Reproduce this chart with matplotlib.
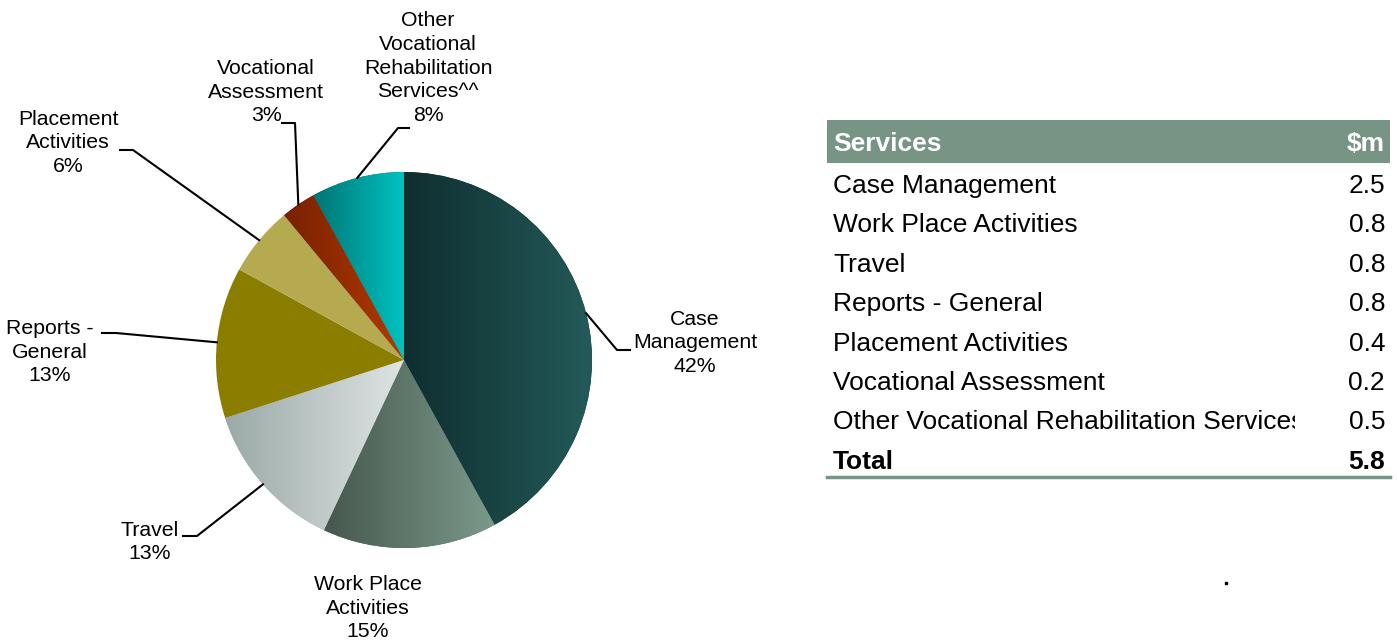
import numpy as np
import matplotlib
matplotlib.use('Agg')
import matplotlib.pyplot as plt
from matplotlib.colors import LinearSegmentedColormap
from matplotlib.patches import Rectangle

plt.rcParams['font.family'] = ['Liberation Sans', 'DejaVu Sans']

# pie data (share of spend, clockwise from 12 o'clock)
pie_labels = ['Case\nManagement', 'Work Place\nActivities', 'Travel', 'Reports -\nGeneral',
              'Placement\nActivities', 'Vocational\nAssessment',
              'Other\nVocational\nRehabilitation\nServices^^']
pie_pct = [42, 15, 13, 13, 6, 3, 8]

# table data
tbl_services = ['Case Management', 'Work Place Activities', 'Travel', 'Reports - General',
                'Placement Activities', 'Vocational Assessment',
                'Other Vocational Rehabilitation Services']
tbl_values = [2.5, 0.8, 0.8, 0.8, 0.4, 0.2, 0.5]
tbl_total = 5.8

# slice fills: (left colour, right colour) for horizontal gradient
grads = [('#0f2e2f', '#235a59'), ('#46574d', '#7b9a8b'), ('#9aa9a7', '#dfe4e4'),
         ('#8b7d00', '#8b7d00'), ('#b5aa50', '#b5aa50'), ('#782000', '#b23a00'),
         ('#007474', '#00c2c2')]

W, H = 1397, 642
fig = plt.figure(figsize=(W / 100, H / 100), dpi=100)
ax = fig.add_axes([0, 0, 1, 1])
ax.set_xlim(0, W)
ax.set_ylim(0, H)
ax.set_aspect('equal')
ax.axis('off')

def py(y):
    # pixel row (from top) -> data y
    return H - y

cx, cy, R = 404, py(360), 188
wedges, _ = ax.pie(pie_pct, startangle=90, counterclock=False, center=(cx, cy), radius=R,
                   colors=[g[0] for g in grads], wedgeprops=dict(linewidth=0))
ax.set_xlim(0, W)
ax.set_ylim(0, H)

for w, (c1, c2) in zip(wedges, grads):
    if c1 == c2:
        continue
    bb = w.get_path().get_extents(w.get_transform() + ax.transData.inverted())
    cmap = LinearSegmentedColormap.from_list('g', [c1, c2])
    im = ax.imshow(np.linspace(0, 1, 256)[None, :], cmap=cmap, aspect='auto',
                   extent=(bb.x0, bb.x1, bb.y0, bb.y1), zorder=1.5, interpolation='bilinear')
    im.set_clip_path(w)
ax.set_xlim(0, W)
ax.set_ylim(0, H)

# label positions (pixel coords) and leader elbows
lab_pos = [(695, 343), (368, 608), (150, 542), (50, 352), (68, 143), (266, 92), (428, 68)]
elbows = [[(617, 350), (630, 350)], None, [(197, 536), (183, 536)], [(116, 333), (102, 333)],
          [(133, 150), (120, 150)], [(295, 123), (282, 123)], [(398, 128), (409, 128)]]

for w, lab, p, (tx, ty), el in zip(wedges, pie_labels, pie_pct, lab_pos, elbows):
    ax.text(tx, py(ty), f'{lab}\n{p}%', ha='center', va='center', fontsize=15.3,
            linespacing=1.33, color='black')
    if el is None:
        continue
    mid = np.deg2rad((w.theta1 + w.theta2) / 2)
    xs = [cx + R * np.cos(mid)] + [e[0] for e in el]
    ys = [cy + R * np.sin(mid)] + [py(e[1]) for e in el]
    ax.plot(xs, ys, color='black', lw=1.5, zorder=3)

# table
tx0, tx1 = 827, 1390
fs = 19
hdr_col = '#779485'
ax.add_patch(Rectangle((tx0, py(163)), tx1 - tx0, 43, color=hdr_col, lw=0))
ax.text(833, py(144), 'Services', color='white', fontsize=fs, fontweight='bold', va='center')
ax.text(1385, py(144), '$m', color='white', fontsize=fs, fontweight='bold', va='center',
        ha='right')
clip = Rectangle((tx0, 0), 1295 - tx0, H, transform=ax.transData)
row_y = 186
for s, v in zip(tbl_services, tbl_values):
    t = ax.text(833, py(row_y), s, fontsize=fs, va='center', clip_on=True)
    t.set_clip_path(clip)
    ax.text(1385, py(row_y), f'{v:.1f}', fontsize=fs, va='center', ha='right')
    row_y += 39.4
ax.text(833, py(row_y), 'Total', fontsize=fs, va='center', fontweight='bold')
ax.text(1385, py(row_y), f'{tbl_total:.1f}', fontsize=fs, va='center', ha='right',
        fontweight='bold')
ax.plot([tx0, tx1], [py(477), py(477)], color=hdr_col, lw=2.5)

ax.plot([1226], [py(583)], marker='s', ms=1.6, color='black', lw=0)

fig.savefig('out.png', dpi=100)
